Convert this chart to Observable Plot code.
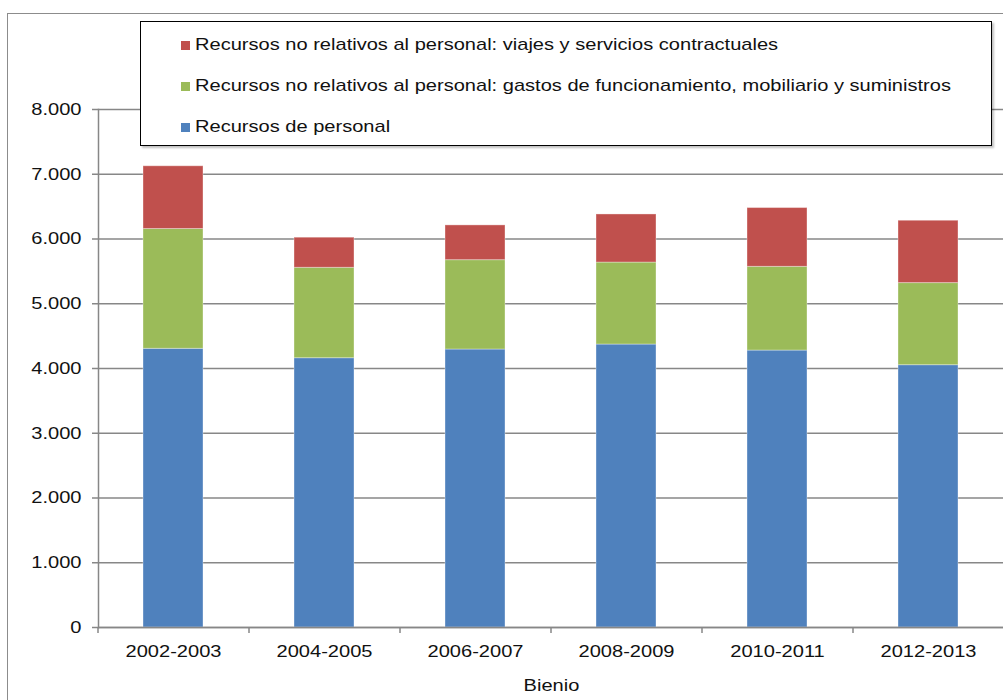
<!DOCTYPE html>
<html>
<head>
<meta charset="utf-8">
<script src="https://cdn.jsdelivr.net/npm/d3@7"></script>
<script src="https://cdn.jsdelivr.net/npm/@observablehq/plot@0.6"></script>
<style>
  body { margin: 0; background: #fff; }
  #wrap { position: relative; width: 1003px; height: 700px; overflow: hidden; font-family: "Liberation Sans", Arial, sans-serif; }
  #border { position: absolute; left: 7px; top: 13px; width: 1100px; height: 800px; border: 1px solid #8c8c8c; box-sizing: border-box; }
  #chart { position: absolute; left: 0; top: 0; }
  #legend { position: absolute; left: 140px; top: 21px; width: 852px; height: 125px; border: 1px solid #000; background: #fff; box-sizing: border-box; box-shadow: 2px 2px 2px rgba(0,0,0,0.25); }
  .item { position: absolute; left: 40px; height: 20px; line-height: 20px; font-size: 17px; color: #111; white-space: nowrap; }
  .sw { position: absolute; left: 0; top: 6px; width: 9px; height: 9px; }
  .lab { position: absolute; left: 14px; top: 0; display: inline-block; transform: scaleX(1.18); transform-origin: left center; }
</style>
</head>
<body>
<div id="wrap">
  <div id="border"></div>
  <div id="chart"></div>
  <div id="legend"></div>
</div>
<script>
const categories = ["2002-2003", "2004-2005", "2006-2007", "2008-2009", "2010-2011", "2012-2013"];
const seriesNames = [
  "Recursos de personal",
  "Recursos no relativos al personal: gastos de funcionamiento, mobiliario y suministros",
  "Recursos no relativos al personal: viajes y servicios contractuales"
];
const personal = [4304, 4159, 4293, 4370, 4277, 4051];
const funcionamiento = [1850, 1396, 1380, 1266, 1293, 1268];
const viajes = [969, 465, 537, 743, 908, 963];
const colors = ["#4F81BD", "#9BBB59", "#C0504D"];
const yTicks = [0, 1000, 2000, 3000, 4000, 5000, 6000, 7000, 8000];

const seriesValues = [personal, funcionamiento, viajes];
const data = [];
seriesNames.forEach((s, i) => categories.forEach((c, j) => data.push({bienio: c, serie: s, value: seriesValues[i][j]})));

const fmt = d3.formatLocale({decimal: ",", thousands: ".", grouping: [3], currency: ["", ""]}).format(",");
const W = 1003, H = 700, ML = 98, MR = -1;
const step = (W - ML - MR) / categories.length;
const gray = "#878787";

const chart = Plot.plot({
  width: W, height: H,
  marginLeft: ML, marginRight: MR, marginTop: 109, marginBottom: 73,
  style: {fontFamily: "'Liberation Sans', Arial, sans-serif", fontSize: "17px", color: "#111", background: "transparent", overflow: "visible"},
  x: {domain: categories, paddingInner: 0.6, paddingOuter: 0.3, label: null},
  y: {domain: [0, 8000], label: null},
  color: {domain: seriesNames, range: colors},
  marks: [
    Plot.gridY(yTicks, {stroke: gray, strokeOpacity: 1, strokeWidth: 1.5}),
    Plot.axisY(yTicks, {tickSize: 6, tickPadding: 11, tickFormat: fmt, stroke: gray, strokeWidth: 1.5, label: null}),
    Plot.frame({anchor: "left", stroke: gray, strokeWidth: 1.5}),
    Plot.barY(data, {x: "bienio", y: "value", fill: "serie", stroke: "#fff", strokeOpacity: 0.35, strokeWidth: 1}),
    Plot.ruleY([0], {stroke: gray, strokeWidth: 1.5}),
    Plot.axisX({tickSize: 0, tickPadding: 17, label: "Bienio", labelAnchor: "center", labelOffset: 63}),
    Plot.axisX({tickSize: 6, tickFormat: () => "", dx: -step / 2, label: null, stroke: gray, strokeWidth: 1.5}),
    Plot.axisX([categories[categories.length - 1]], {tickSize: 6, tickFormat: () => "", dx: step / 2, label: null, stroke: gray, strokeWidth: 1.5})
  ]
});
document.getElementById("chart").appendChild(chart);

// horizontal stretch of text to match reference font proportions
chart.querySelectorAll("text").forEach(t => {
  const len = t.getComputedTextLength();
  if (len > 0) {
    t.setAttribute("textLength", (len * 1.18).toFixed(1));
    t.setAttribute("lengthAdjust", "spacingAndGlyphs");
  }
});

// legend (top to bottom: viajes, funcionamiento, personal)
const legend = document.getElementById("legend");
const order = [2, 1, 0];
const tops = [13, 54, 95];
order.forEach((i, k) => {
  const it = document.createElement("div");
  it.className = "item";
  it.style.top = tops[k] + "px";
  const sw = document.createElement("span");
  sw.className = "sw";
  sw.style.background = colors[i];
  const lab = document.createElement("span");
  lab.className = "lab";
  lab.textContent = seriesNames[i];
  it.appendChild(sw);
  it.appendChild(lab);
  legend.appendChild(it);
});
</script>
</body>
</html>
